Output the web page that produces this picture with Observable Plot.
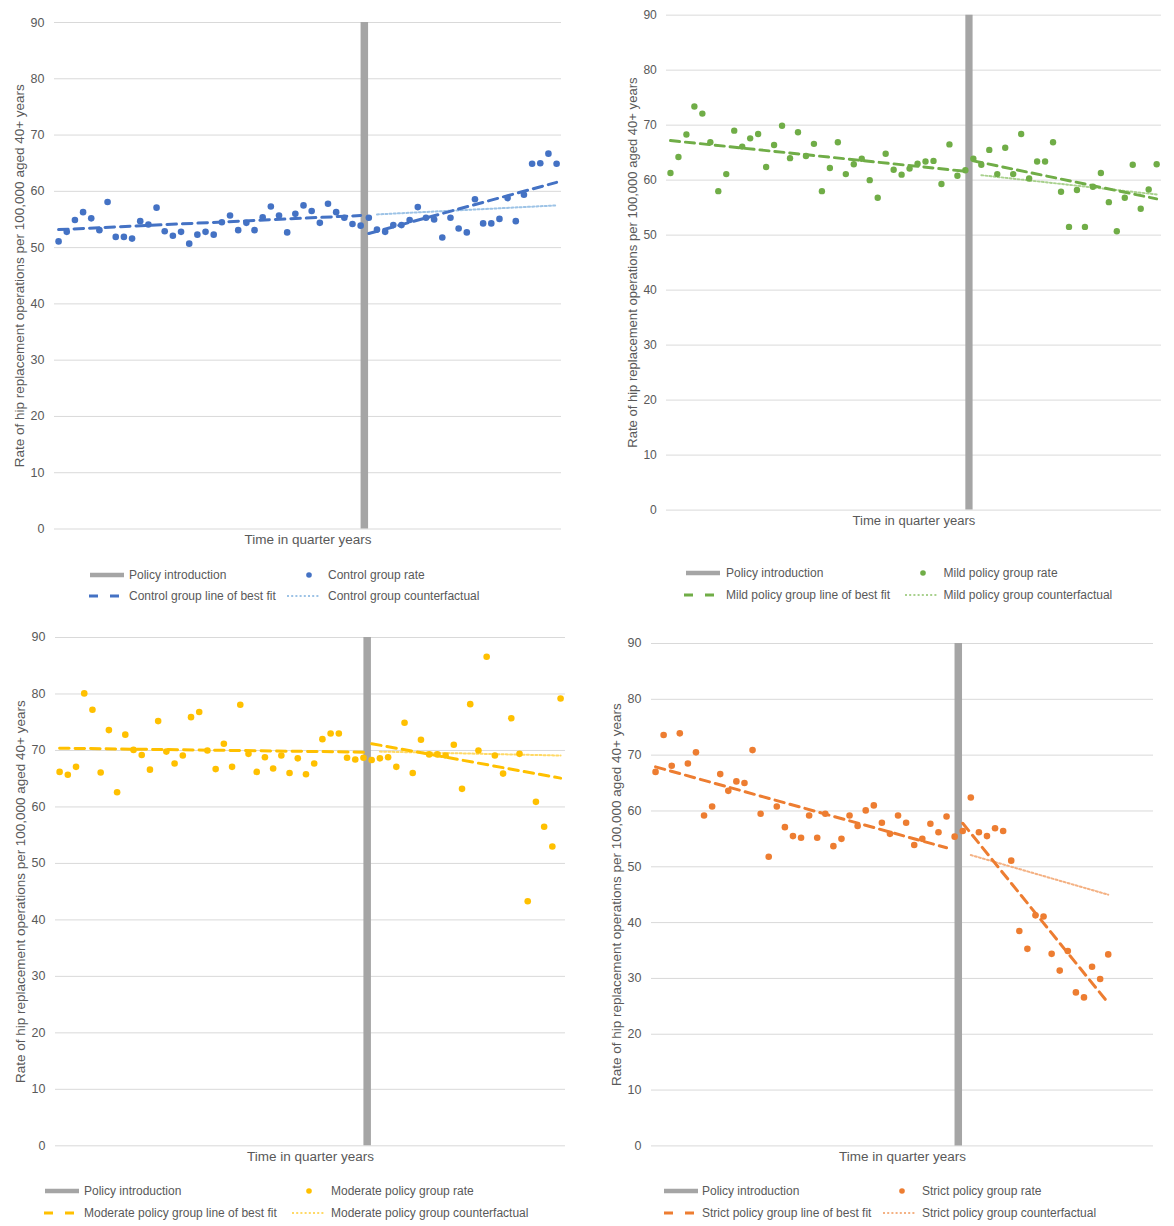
<!DOCTYPE html>
<html>
<head>
<meta charset="utf-8">
<script src="https://cdn.jsdelivr.net/npm/d3@7"></script>
<script src="https://cdn.jsdelivr.net/npm/@observablehq/plot@0.6"></script>
<style>
  html, body { margin: 0; padding: 0; background: #fff; }
  #page {
    position: relative; width: 1174px; height: 1226px; overflow: hidden; background: #fff;
    font-family: "Liberation Sans", Arial, sans-serif; color: #595959;
  }
  .panel { position: absolute; }
  .panel svg { overflow: visible; }
  .legend-text {
    position: absolute; font-size: 12px; line-height: 14px; white-space: nowrap;
    transform: translateY(-50%); color: #595959;
  }
  #legend-swatches { position: absolute; left: 0; top: 0; pointer-events: none; }
</style>
</head>
<body>
<div id="page"></div>
<script>
// ---------- Data ----------
const yTicks = [0, 10, 20, 30, 40, 50, 60, 70, 80, 90];
const yTitle = "Rate of hip replacement operations per 100,000 aged 40+ years";
const xTitle = "Time in quarter years";
const policyLabel = "Policy introduction";
const policyQuarter = 38.45;

// Quarterly rates per 100,000 aged 40+ years
const controlRate = [51.1, 52.8, 54.9, 56.3, 55.2, 53.1, 58.1, 51.9, 51.9, 51.6,
  54.7, 54.1, 57.1, 52.9, 52.1, 52.8, 50.7, 52.3, 52.8, 52.3,
  54.5, 55.7, 53.1, 54.4, 53.1, 55.4, 57.3, 55.7, 52.7, 56.0,
  57.5, 56.5, 54.4, 57.8, 56.3, 55.3, 54.2, 53.9, 55.3, 53.2,
  52.8, 54.0, 54.0, 54.9, 57.2, 55.3, 55.0, 51.8, 55.3, 53.4,
  52.7, 58.6, 54.3, 54.3, 55.1, 58.8, 54.7, 59.4, 64.9, 65.0, 66.7, 64.9];

const mildRate = [61.3, 64.2, 68.3, 73.4, 72.1, 66.9, 58.0, 61.1, 69.0, 66.1,
  67.6, 68.4, 62.4, 66.4, 69.9, 64.0, 68.7, 64.4, 66.6, 58.0,
  62.2, 66.9, 61.1, 62.9, 63.9, 60.0, 56.8, 64.8, 61.9, 61.0,
  62.1, 63.0, 63.4, 63.5, 59.3, 66.5, 60.8, 61.8, 63.9, 62.8,
  65.5, 61.1, 65.9, 61.1, 68.4, 60.3, 63.4, 63.4, 66.9, 57.9,
  51.5, 58.2, 51.5, 58.8, 61.3, 56.0, 50.7, 56.8, 62.8, 54.8, 58.3, 62.9];

const moderateRate = [66.2, 65.7, 67.1, 80.1, 77.2, 66.1, 73.6, 62.6, 72.8, 70.1,
  69.2, 66.6, 75.2, 69.8, 67.7, 69.1, 75.9, 76.8, 70.0, 66.7,
  71.2, 67.1, 78.1, 69.4, 66.2, 68.8, 66.8, 69.1, 66.0, 68.6,
  65.8, 67.7, 72.0, 73.0, 73.0, 68.7, 68.4, 68.7, 68.3, 68.6,
  68.8, 67.1, 74.9, 66.0, 71.9, 69.3, 69.3, 69.1, 71.0, 63.2,
  78.2, 70.0, 86.6, 69.1, 65.9, 75.7, 69.4, 43.3, 60.9, 56.5, 53.0, 79.2];

const strictRate = [67.0, 73.6, 68.1, 73.9, 68.5, 70.5, 59.2, 60.8, 66.6, 63.6,
  65.3, 65.0, 70.9, 59.5, 51.8, 60.8, 57.1, 55.5, 55.2, 59.2,
  55.2, 59.5, 53.7, 55.0, 59.2, 57.3, 60.1, 61.0, 57.9, 55.9,
  59.2, 57.9, 53.9, 55.0, 57.7, 56.2, 59.0, 55.4, 56.4, 62.4,
  56.2, 55.5, 56.9, 56.4, 51.1, 38.5, 35.3, 41.3, 41.1, 34.4,
  31.4, 34.9, 27.5, 26.6, 32.1, 29.9, 34.3];

// Lines of best fit and counterfactuals: [start, end] quarters and values
const fitPreQuarters = [1, 38];
const fitPostQuarters = [39, 62];
const counterfactualQuarters = [40, 62];
const strictFitPreQuarters = [1, 37];
const strictFitPostQuarters = [39, 57];
const strictCounterfactualQuarters = [40, 57];

const controlFitPre = [53.2, 55.7];
const controlFitPost = [52.5, 61.6];
const controlCounterfactual = [55.9, 57.5];

const mildFitPre = [67.2, 61.6];
const mildFitPost = [63.5, 56.6];
const mildCounterfactual = [60.9, 57.4];

const moderateFitPre = [70.4, 69.7];
const moderateFitPost = [71.2, 65.1];
const moderateCounterfactual = [69.8, 69.1];

const strictFitPre = [67.9, 53.4];
const strictFitPost = [57.8, 25.6];
const strictCounterfactual = [52.1, 45.0];

// ---------- Helpers ----------
const rows = (values) => values.map((rate, i) => ({quarter: i + 1, rate}));
const segment = (quarters, values) => quarters.map((quarter, i) => ({quarter, rate: values[i]}));

const FONT = "'Liberation Sans', Arial, sans-serif";
const TEXT = "#595959";
const xDomain = [0.5, 62.6];

const panels = [
  {
    name: "Control group", color: "#4472C4", light: "#9DC3E6",
    rate: controlRate,
    pre: segment(fitPreQuarters, controlFitPre),
    post: segment(fitPostQuarters, controlFitPost),
    cf: segment(counterfactualQuarters, controlCounterfactual),
    frame: {left: 54, top: 21.5, w: 507, h: 506.5},
    legend: {y1: 575, y2: 596, bar: [90, 124], dash: [89, 119], t1: 129, dot: 309, dotted: [287, 320], t2: 328}
  },
  {
    name: "Mild policy group", color: "#70AD47", light: "#A9D18E",
    rate: mildRate,
    pre: segment(fitPreQuarters, mildFitPre),
    post: segment(fitPostQuarters, mildFitPost),
    cf: segment(counterfactualQuarters, mildCounterfactual),
    frame: {left: 667.5, top: 14.7, w: 512, h: 512},
    legend: {y1: 573, y2: 595, bar: [686, 720], dash: [684, 718], t1: 726, dot: 923, dotted: [905, 938], t2: 943.5}
  },
  {
    name: "Moderate policy group", color: "#FFC000", light: "#FFD966",
    rate: moderateRate,
    pre: segment(fitPreQuarters, moderateFitPre),
    post: segment(fitPostQuarters, moderateFitPost),
    cf: segment(counterfactualQuarters, moderateCounterfactual),
    frame: {left: 55.4, top: 636.7, w: 510, h: 508.3},
    legend: {y1: 1191, y2: 1213, bar: [45, 79], dash: [44, 74], t1: 84, dot: 309, dotted: [292, 325], t2: 331}
  },
  {
    name: "Strict policy group", color: "#ED7D31", light: "#F4B183",
    rate: strictRate,
    pre: segment(strictFitPreQuarters, strictFitPre),
    post: segment(strictFitPostQuarters, strictFitPost),
    cf: segment(strictCounterfactualQuarters, strictCounterfactual),
    frame: {left: 650.7, top: 643.3, w: 502, h: 502.4},
    legend: {y1: 1191, y2: 1213, bar: [664, 698], dash: [664, 694], t1: 702, dot: 902, dotted: [883, 916], t2: 922}
  }
];

const page = document.getElementById("page");
const M = {left: 60, right: 14, top: 10, bottom: 30};

for (const p of panels) {
  const chart = Plot.plot({
    width: M.left + p.frame.w + M.right,
    height: M.top + p.frame.h + M.bottom,
    marginLeft: M.left, marginRight: M.right, marginTop: M.top, marginBottom: M.bottom,
    style: {fontFamily: FONT, fontSize: "12px", color: TEXT, background: "transparent", overflow: "visible"},
    x: {domain: xDomain, axis: null},
    y: {domain: [0, 90]},
    marks: [
      Plot.gridY(yTicks, {stroke: "#d9d9d9", strokeOpacity: 1, strokeWidth: 1}),
      Plot.axisY(yTicks, {tickSize: 0, tickPadding: 10, fontSize: 12.5, fill: TEXT, label: null}),
      Plot.ruleX([policyQuarter], {y1: 0, y2: 90, stroke: "#a5a5a5", strokeWidth: 7.5}),
      Plot.line(p.cf, {x: "quarter", y: "rate", stroke: p.light, strokeWidth: 2, strokeDasharray: "2,2.2"}),
      Plot.line(p.pre, {x: "quarter", y: "rate", stroke: p.color, strokeWidth: 3, strokeDasharray: "9.5,6"}),
      Plot.line(p.post, {x: "quarter", y: "rate", stroke: p.color, strokeWidth: 3, strokeDasharray: "9.5,6"}),
      Plot.dot(rows(p.rate), {x: "quarter", y: "rate", r: 3.3, fill: p.color, stroke: null}),
      Plot.text([yTitle], {frameAnchor: "left", rotate: -90, dx: -35, fontSize: 13.5, fill: TEXT,
                           textAnchor: "middle", lineAnchor: "middle", text: d => d}),
      Plot.text([xTitle], {frameAnchor: "bottom", dy: 11, fontSize: 13.5, fill: TEXT,
                           textAnchor: "middle", lineAnchor: "middle", text: d => d})
    ]
  });
  const holder = document.createElement("div");
  holder.className = "panel";
  holder.style.left = (p.frame.left - M.left) + "px";
  holder.style.top = (p.frame.top - M.top) + "px";
  holder.appendChild(chart);
  page.appendChild(holder);
}

// ---------- Legends ----------
const sw = d3.select(page).append("svg")
  .attr("id", "legend-swatches")
  .attr("width", 1174).attr("height", 1226);

function legendText(x, y, text) {
  const div = document.createElement("div");
  div.className = "legend-text";
  div.style.left = x + "px";
  div.style.top = y + "px";
  div.textContent = text;
  page.appendChild(div);
}

for (const p of panels) {
  const L = p.legend;
  sw.append("line").attr("x1", L.bar[0]).attr("x2", L.bar[1]).attr("y1", L.y1).attr("y2", L.y1)
    .attr("stroke", "#a5a5a5").attr("stroke-width", 4.5);
  legendText(L.t1, L.y1, policyLabel);

  sw.append("circle").attr("cx", L.dot).attr("cy", L.y1).attr("r", 2.8).attr("fill", p.color);
  legendText(L.t2, L.y1, p.name + " rate");

  sw.append("line").attr("x1", L.dash[0]).attr("x2", L.dash[1]).attr("y1", L.y2).attr("y2", L.y2)
    .attr("stroke", p.color).attr("stroke-width", 3).attr("stroke-dasharray", "9,12");
  legendText(L.t1, L.y2, p.name + " line of best fit");

  sw.append("line").attr("x1", L.dotted[0]).attr("x2", L.dotted[1]).attr("y1", L.y2).attr("y2", L.y2)
    .attr("stroke", p.light).attr("stroke-width", 2).attr("stroke-dasharray", "2,2.2");
  legendText(L.t2, L.y2, p.name + " counterfactual");
}
</script>
</body>
</html>
